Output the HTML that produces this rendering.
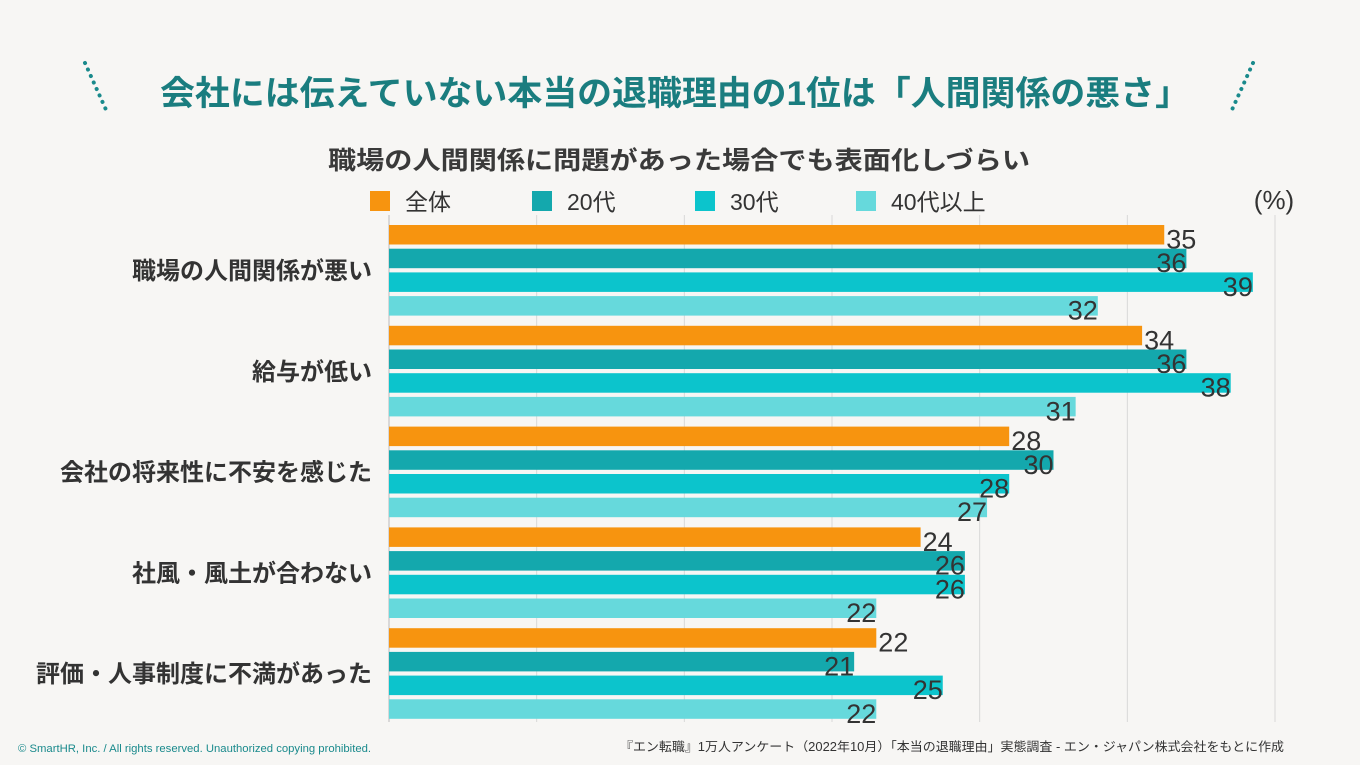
<!DOCTYPE html>
<html><head><meta charset="utf-8"><style>
body{margin:0;background:#f7f6f4;}
svg{display:block;font-family:"Liberation Sans","Noto Sans CJK JP",sans-serif;}
</style></head><body>
<svg width="1360" height="765" viewBox="0 0 1360 765">
<rect width="1360" height="765" fill="#f7f6f4"/>
<line x1="85" y1="63" x2="107" y2="112" stroke="#1a8a8c" stroke-width="4" stroke-linecap="round" stroke-dasharray="0.1 7"/>
<line x1="1253" y1="63" x2="1231" y2="112" stroke="#1a8a8c" stroke-width="4" stroke-linecap="round" stroke-dasharray="0.1 7"/>
<text x="675" y="105" text-anchor="middle" font-size="34" font-weight="bold" fill="#1a7d7f" textLength="1030" lengthAdjust="spacingAndGlyphs">会社には伝えていない本当の退職理由の1位は「人間関係の悪さ」</text>
<text x="679" y="169" text-anchor="middle" font-size="25" font-weight="bold" fill="#3a3a3a" textLength="702" lengthAdjust="spacingAndGlyphs">職場の人間関係に問題があった場合でも表面化しづらい</text>
<g id="legend"></g>
<text x="1274" y="209" text-anchor="middle" font-size="26" fill="#333">(%)</text>
<g id="grid"></g>
<g id="bars"></g>
<g id="cats"></g>
<text x="18" y="752" font-size="11.3" fill="#1a8a8c">© SmartHR, Inc. / All rights reserved. Unauthorized copying prohibited.</text>
<text x="1284" y="751" text-anchor="end" font-size="12.5" fill="#333" textLength="664" lengthAdjust="spacingAndGlyphs">『エン転職』1万人アンケート（2022年10月）「本当の退職理由」実態調査 - エン・ジャパン株式会社をもとに作成</text>
</svg>
<script>
const categories=["職場の人間関係が悪い","給与が低い","会社の将来性に不安を感じた","社風・風土が合わない","評価・人事制度に不満があった"];
const seriesNames=["全体","20代","30代","40代以上"];
const sAll=[35,34,28,24,22];
const s20=[36,36,30,26,21];
const s30=[39,38,28,26,25];
const s40=[32,31,27,22,22];
const xMax=40;
const gridSteps=6;
const series=[sAll,s20,s30,s40];
const colors=["#f7940f","#14a8ad","#0cc4cc","#66d9dc"];
const NS="http://www.w3.org/2000/svg";
const x0=389,x1=1275;
const xs=v=>x0+(x1-x0)*v/xMax;
function mk(t,a,p,txt){const e=document.createElementNS(NS,t);for(const k in a)e.setAttribute(k,a[k]);if(txt!==undefined)e.textContent=txt;p.appendChild(e);return e;}
const grid=document.getElementById('grid');
for(let i=0;i<=gridSteps;i++){const x=xs(xMax*i/gridSteps);
const l=mk('line',{x1:x,x2:x,y1:215,y2:722,stroke:i==0?'#bbb':'#d8d8d8','stroke-width':1},grid);

}
const lg=document.getElementById('legend');
const lx=[370,532,695,856];
seriesNames.forEach((n,i)=>{
const r=mk('rect',{x:lx[i],y:191,width:20,height:20,fill:colors[i]},lg);


const t=mk('text',{x:lx[i]+35,y:210,'font-size':23,fill:'#333'},lg,n);

});
const bars=document.getElementById('bars'),cats=document.getElementById('cats');
const gTop=225,gPitch=100.8,bPitch=23.7,bH=19.5;
categories.forEach((c,ci)=>{
const y0=gTop+ci*gPitch;
const t=mk('text',{x:372,y:y0+54,'text-anchor':'end','font-size':24,'font-weight':'bold',fill:'#333'},cats,c);


series.forEach((s,si)=>{
const y=y0+si*bPitch,v=s[ci],xe=xs(v);
const r=mk('rect',{x:x0,y:y,width:xe-x0,height:bH,fill:colors[si]},bars);


const lb=mk('text',{x:si==0?xe+2:xe,y:y+bH+4,'text-anchor':si==0?'start':'end','font-size':27,fill:'#333'},bars,v);

});});
</script>
</body></html>
